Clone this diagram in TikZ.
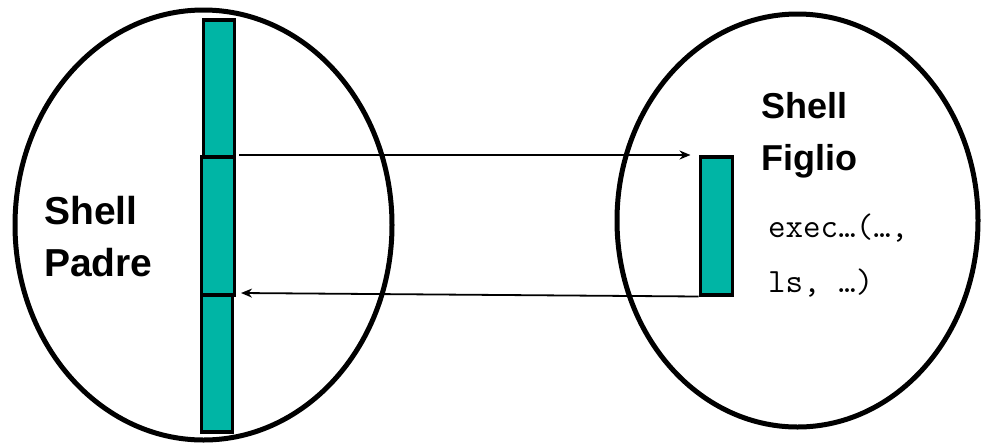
\documentclass[tikz,border=0pt]{standalone}
\usepackage{fontspec}
\setmainfont{Liberation Sans}
\usetikzlibrary{arrows.meta,shapes.geometric}
\definecolor{teal1}{RGB}{0,181,165}
\tikzset{
  shellellipse/.style={draw, ellipse, line width=5pt, inner sep=0pt},
  stackbar/.style={draw, fill=teal1, line width=3.5pt, inner sep=0pt, anchor=north west},
  callarrow/.style={line width=1.8pt, -{Stealth[length=11pt,width=9pt]}},
  biglabel/.style={font=\bfseries\fontsize{39}{39}\selectfont, anchor=base west, inner sep=0pt},
  midlabel/.style={font=\bfseries\fontsize{36}{36}\selectfont, anchor=base west, inner sep=0pt},
  codelabel/.style={font=\ttfamily\fontsize{34}{34}\selectfont, anchor=base west, inner sep=0pt},
}
\begin{document}
\begin{tikzpicture}[x=1pt,y=-1pt]
\useasboundingbox (0,0) rectangle (982,445);
% ellipses
\node[shellellipse, minimum width=377pt, minimum height=430pt] (padre) at (203.5,225) {};
\node[shellellipse, minimum width=361pt, minimum height=413pt] (figlio) at (797.5,220.5) {};
% stack bars (left)
\node[stackbar, minimum width=31pt, minimum height=137pt] (pa) at (201.5,18) {};
\node[stackbar, minimum width=33pt, minimum height=138pt] (pb) at (199.5,155) {};
\node[stackbar, minimum width=31pt, minimum height=137pt] (pc) at (199.5,293) {};
% right bar
\node[stackbar, minimum width=32pt, minimum height=138pt] (cb) at (698.5,155) {};
% arrows
\draw[callarrow] ([xshift=3pt]pb.north east) -- ([xshift=-8pt]cb.north west);
\draw[callarrow] (cb.south west) -- ([xshift=7pt]pc.north east);
% labels
\node[biglabel] (l1) at (44,224) {Shell};
\node[biglabel] (l2) at (44,276) {Padre};
\node[midlabel] (r1) at (761,118) {Shell};
\node[midlabel] (r2) at (761,170) {Figlio};
\node[codelabel] (c1) at (768,237) {exec…(…,};
\node[codelabel] (c2) at (768,292) {ls, …)};
\end{tikzpicture}
\end{document}
